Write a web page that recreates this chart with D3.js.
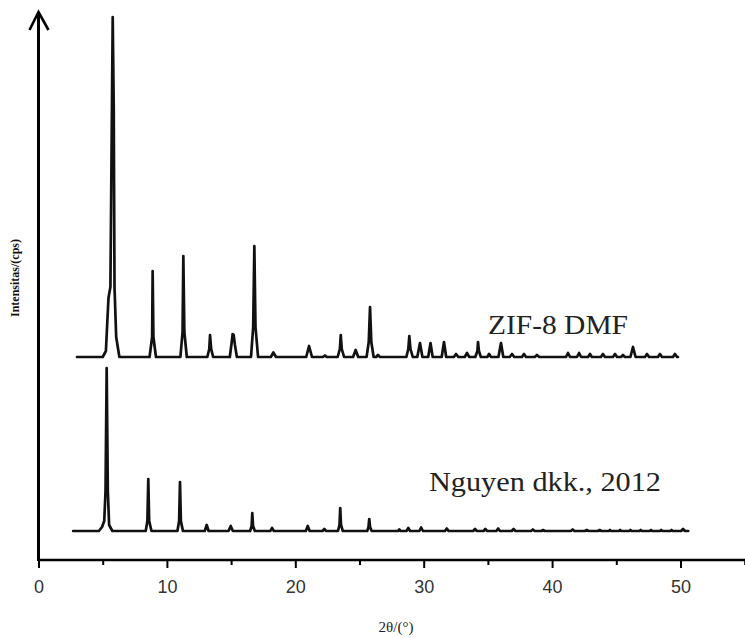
<!DOCTYPE html>
<html>
<head>
<meta charset="utf-8">
<script src="https://cdn.jsdelivr.net/npm/d3@7/dist/d3.min.js"></script>
<style>
  html, body { margin: 0; padding: 0; background: #fff; }
  svg { display: block; }
</style>
</head>
<body>
<svg id="chart" width="745" height="638"></svg>
<script>
// ---- data ----
const xTicksMajor = [0, 10, 20, 30, 40, 50];
const xTicksMinor = [5, 15, 25, 35, 45, 55];
const xLabel = "2θ/(°)";
const yLabel = "Intensitas/(cps)";
const seriesNames = ["ZIF-8 DMF", "Nguyen dkk., 2012"];
const seriesOffsets = [203, 29]; // baseline of each stacked pattern (a.u.)

// ZIF-8 DMF pattern: [2θ, intensity above baseline]
const zifTheta = [3.0, 5.0, 5.25, 5.45, 5.6, 5.72, 5.78, 5.86, 5.92, 6.05, 6.3,
  8.65, 8.85, 8.89, 8.95, 9.15,
  11.05, 11.22, 11.28, 11.36, 11.55,
  13.15, 13.3, 13.36, 13.45, 13.6,
  14.9, 15.05, 15.12, 15.2, 15.3, 15.45,
  16.55, 16.72, 16.81, 16.9, 17.1,
  18.1, 18.29, 18.5,
  20.85, 21.07, 21.3,
  22.15, 22.31, 22.45,
  23.3, 23.47, 23.54, 23.62, 23.8,
  24.5, 24.7, 24.9,
  25.55, 25.72, 25.82, 25.92, 26.1,
  26.3, 26.44, 26.6,
  28.65, 28.8, 28.88, 28.97, 29.15,
  29.5, 29.71, 29.9,
  30.35, 30.53, 30.7,
  31.4, 31.58, 31.75,
  32.35, 32.52, 32.7,
  33.2, 33.37, 33.55,
  34.02, 34.18, 34.23, 34.3, 34.45,
  34.95, 35.09, 35.25,
  35.82, 36.02, 36.2,
  36.7, 36.88, 37.05,
  37.65, 37.81, 37.97,
  38.65, 38.82, 39.0,
  41.08, 41.24, 41.4,
  41.94, 42.1, 42.26,
  42.8, 42.95, 43.1,
  43.8, 43.96, 44.12,
  44.74, 44.9, 45.06,
  45.37, 45.52, 45.67,
  46.1, 46.3, 46.5,
  47.23, 47.39, 47.55,
  48.24, 48.4, 48.56,
  49.41, 49.57, 49.73, 49.8];
const zifInt = [0, 0, 6, 59, 70, 250, 340, 250, 70, 20, 0,
  0, 20, 86, 20, 0,
  0, 25, 101, 25, 0,
  0, 8, 22, 8, 0,
  0, 15, 23, 22, 12, 0,
  0, 30, 111, 30, 0,
  0, 4.5, 0,
  0, 11, 0,
  0, 1.5, 0,
  0, 8, 22, 8, 0,
  0, 7, 0,
  0, 15, 50, 15, 0,
  0, 2, 0,
  0, 8, 21, 8, 0,
  0, 14, 0,
  0, 14, 0,
  0, 15, 0,
  0, 3, 0,
  0, 4, 0,
  0, 6, 15, 6, 0,
  0, 3, 0,
  0, 14, 0,
  0, 3, 0,
  0, 3, 0,
  0, 2, 0,
  0, 4, 0,
  0, 4, 0,
  0, 3, 0,
  0, 3, 0,
  0, 3, 0,
  0, 2, 0,
  0, 10, 0,
  0, 3, 0,
  0, 3, 0,
  0, 3, 0, 0];

// Nguyen dkk., 2012 pattern
const refTheta = [2.7, 4.7, 4.95, 5.12, 5.22, 5.31, 5.4, 5.5, 5.75,
  8.35, 8.48, 8.55, 8.62, 8.8,
  10.82, 10.95, 11.02, 11.09, 11.25,
  12.95, 13.1, 13.25,
  14.8, 14.97, 15.14,
  16.48, 16.6, 16.65, 16.71, 16.85,
  18.05, 18.19, 18.33,
  20.82, 20.97, 21.12,
  22.12, 22.26, 22.4,
  23.32, 23.44, 23.5, 23.56, 23.7,
  25.6, 25.7, 25.76, 25.82, 25.95,
  28.0, 28.1, 28.2,
  28.66, 28.8, 28.94,
  29.66, 29.8, 29.94,
  31.66, 31.8, 31.94,
  33.86, 34.0, 34.14,
  34.66, 34.8, 34.94,
  35.66, 35.8, 35.94,
  36.86, 37.0, 37.14,
  38.36, 38.5, 38.64,
  39.16, 39.3, 39.44,
  41.46, 41.6, 41.74,
  42.56, 42.7, 42.84,
  43.56, 43.7, 43.84,
  44.4, 44.5, 44.6,
  45.2, 45.3, 45.4,
  46.0, 46.1, 46.2,
  46.8, 46.9, 47.0,
  47.6, 47.7, 47.8,
  48.4, 48.5, 48.6,
  49.2, 49.3, 49.4,
  50.05, 50.2, 50.35, 50.6];
const refInt = [0, 0, 4, 10, 40, 163, 40, 6, 0,
  0, 10, 52, 10, 0,
  0, 10, 49, 10, 0,
  0, 6, 0,
  0, 5, 0,
  0, 5, 18, 5, 0,
  0, 3, 0,
  0, 5, 0,
  0, 2, 0,
  0, 6, 23, 6, 0,
  0, 4, 12, 4, 0,
  0, 1.5, 0,
  0, 3, 0,
  0, 3.5, 0,
  0, 2.5, 0,
  0, 2, 0,
  0, 2, 0,
  0, 2.5, 0,
  0, 2, 0,
  0, 1.5, 0,
  0, 1, 0,
  0, 1.5, 0,
  0, 1, 0,
  0, 1, 0,
  0, 1, 0,
  0, 1, 0,
  0, 1, 0,
  0, 1, 0,
  0, 1, 0,
  0, 1, 0,
  0, 1, 0,
  0, 2, 0, 0];

// ---- drawing ----
const svg = d3.select("#chart");
const x = d3.scaleLinear().domain([0, 55]).range([38.5, 744.7]);
const y = d3.scaleLinear().domain([0, 548]).range([560, 12]);

const series = [
  { name: seriesNames[0], off: seriesOffsets[0], pts: zifTheta.map((t, i) => [t, zifInt[i]]) },
  { name: seriesNames[1], off: seriesOffsets[1], pts: refTheta.map((t, i) => [t, refInt[i]]) }
];

const line = d3.line().x(d => x(d[0])).y(d => y(d[1])).curve(d3.curveLinear);

series.forEach(s => {
  svg.append("path")
    .datum(s.pts.map(p => [p[0], p[1] + s.off]))
    .attr("fill", "none")
    .attr("stroke", "#111")
    .attr("stroke-width", 2.7)
    .attr("stroke-linejoin", "round")
    .attr("stroke-linecap", "round")
    .attr("d", line);
});

// x axis
const gx = svg.append("g").attr("transform", `translate(0,${y(0)})`);
gx.append("line").attr("x1", x(0)).attr("x2", 745).attr("y1", 0).attr("y2", 0)
  .attr("stroke", "#000").attr("stroke-width", 2.6);
const axMajor = gx.append("g").call(d3.axisBottom(x).tickValues(xTicksMajor).tickSize(8).tickSizeOuter(0).tickFormat(d3.format("d")));
axMajor.select(".domain").remove();
axMajor.selectAll(".tick line").attr("stroke", "#000").attr("stroke-width", 2);
axMajor.selectAll(".tick text")
  .attr("font-family", "Liberation Sans, Arial, sans-serif")
  .attr("font-size", 18).attr("fill", "#333").attr("dy", "0.9em").attr("y", 17);
const axMinor = gx.append("g").call(d3.axisBottom(x).tickValues(xTicksMinor).tickSize(5).tickSizeOuter(0).tickFormat(""));
axMinor.select(".domain").remove();
axMinor.selectAll(".tick line").attr("stroke", "#000").attr("stroke-width", 2);

// y axis with arrow
svg.append("line").attr("x1", x(0)).attr("x2", x(0)).attr("y1", y(0) + 1).attr("y2", y(548))
  .attr("stroke", "#000").attr("stroke-width", 3);
svg.append("path")
  .attr("d", `M${x(0) - 9},${y(548) + 18} L${x(0)},${y(548)} L${x(0) + 10},${y(548) + 18}`)
  .attr("fill", "none").attr("stroke", "#000").attr("stroke-width", 2.6);

// axis titles
svg.append("text")
  .attr("x", 396).attr("y", 632)
  .attr("text-anchor", "middle")
  .attr("font-family", "Liberation Serif, Times New Roman, serif")
  .attr("font-size", 15).attr("fill", "#222")
  .text(xLabel);
svg.append("text")
  .attr("transform", "translate(19,278) rotate(-90)")
  .attr("text-anchor", "middle")
  .attr("font-family", "Liberation Serif, Times New Roman, serif")
  .attr("font-weight", "bold")
  .attr("font-size", 12).attr("fill", "#111")
  .text(yLabel);

// series labels
svg.append("text")
  .attr("x", 488).attr("y", 334)
  .attr("font-family", "Liberation Serif, Times New Roman, serif")
  .attr("font-size", 27).attr("fill", "#222")
  .attr("textLength", 140).attr("lengthAdjust", "spacingAndGlyphs")
  .text(seriesNames[0]);
svg.append("text")
  .attr("x", 429).attr("y", 491)
  .attr("font-family", "Liberation Serif, Times New Roman, serif")
  .attr("font-size", 27).attr("fill", "#222")
  .attr("textLength", 232).attr("lengthAdjust", "spacingAndGlyphs")
  .text(seriesNames[1]);
</script>
</body>
</html>
